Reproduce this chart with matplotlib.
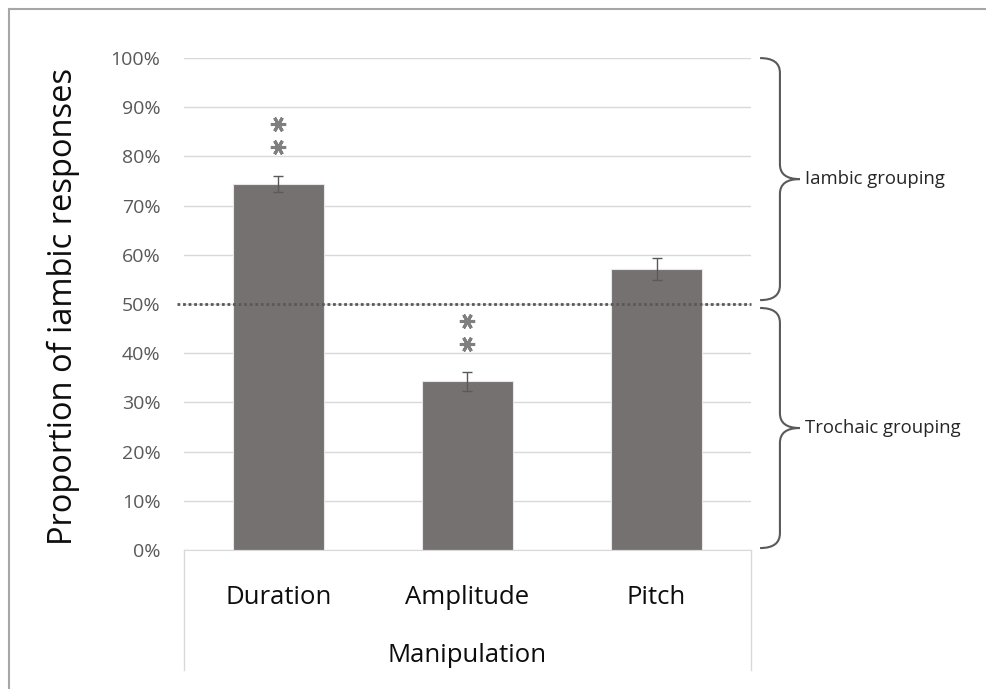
import matplotlib
matplotlib.use("Agg")
import matplotlib.pyplot as plt
from matplotlib.lines import Line2D
from matplotlib.path import Path
import matplotlib.patches as patches
import matplotlib.transforms as mtransforms

plt.rcParams["font.family"] = ["Open Sans", "DejaVu Sans"]

categories = ["Duration", "Amplitude", "Pitch"]
proportions = [74.4, 34.3, 57.1]
errors = [1.7, 1.9, 2.3]
significant = [True, True, False]
chance_level = 50
y_ticks = list(range(0, 101, 10))

BAR = "#767171"
GREY = "#595959"


def draw_brace(ax, y_top, y_bottom, label):
    trans = mtransforms.blended_transform_factory(ax.transAxes, ax.transData)
    x0, x1, x2 = 1.016, 1.051, 1.086
    r = 3.0
    ym = (y_top + y_bottom) / 2
    verts = [
        (x0, y_top), (x1, y_top), (x1, y_top - r),
        (x1, ym + r),
        (x1, ym), (x2, ym),
        (x1, ym), (x1, ym - r),
        (x1, y_bottom + r),
        (x1, y_bottom), (x0, y_bottom),
    ]
    codes = [Path.MOVETO, Path.CURVE3, Path.CURVE3,
             Path.LINETO,
             Path.CURVE3, Path.CURVE3,
             Path.CURVE3, Path.CURVE3,
             Path.LINETO,
             Path.CURVE3, Path.CURVE3]
    brace = patches.PathPatch(Path(verts, codes), fc="none", ec=GREY, lw=1.5,
                              transform=trans, clip_on=False)
    ax.add_patch(brace)
    ax.text(x2 + 0.01, ym, label, transform=trans, ha="left", va="center",
            fontsize=13.3, color="#262626")


fig = plt.figure(figsize=(9.87, 6.89), dpi=100)
ax = fig.add_axes([0.1864, 0.2017, 0.5745, 0.714])

x = range(len(categories))
ax.bar(x, proportions, width=0.48, color=BAR, edgecolor="#e8e6e6", lw=0.8, zorder=2)
ax.errorbar(x, proportions, yerr=errors, fmt="none", ecolor=GREY, elinewidth=1,
            capsize=3.5, capthick=1, zorder=3)

# significance stars above the bars
for xi, val, err, sig in zip(x, proportions, errors, significant):
    if sig:
        for off in (7.6, 12.2):
            ax.plot(xi, val + off, marker=(6, 2, 90), ms=11, mew=2.2,
                    color="#7f7f7f", zorder=4)

ax.axhline(chance_level, xmin=-0.012, xmax=1.0, color=GREY, lw=2,
           ls=(0, (1, 1)), clip_on=False, zorder=4)

ax.set_xlim(-0.5, 2.5)
ax.set_ylim(0, 100)
ax.set_yticks(y_ticks)
ax.set_yticklabels([f"{t}%" for t in y_ticks])
ax.yaxis.grid(True, color="#d9d9d9", lw=1)
ax.set_axisbelow(True)
for s in ["top", "right", "left"]:
    ax.spines[s].set_visible(False)
ax.spines["bottom"].set_color("#d9d9d9")
ax.tick_params(axis="y", length=0, pad=17, labelsize=14, labelcolor=GREY)
ax.set_xticks(list(x))
ax.set_xticklabels(categories)
ax.tick_params(axis="x", length=0, pad=25, labelsize=18.5, labelcolor="#0d0d0d")

ax.set_ylabel("Proportion of iambic responses", fontsize=23.5, color="#0d0d0d")
ax.yaxis.set_label_coords(-0.183, 0.496)
ax.set_xlabel("Manipulation", fontsize=18.5, color="#0d0d0d")
ax.xaxis.set_label_coords(0.5, -0.215)
ax.xaxis.label.set_va("center")

# category axis box lines
for xa in (0, 1):
    ax.add_line(Line2D([xa, xa], [0, -0.244], transform=ax.transAxes,
                       color="#d9d9d9", lw=1, clip_on=False))

draw_brace(ax, 100, 50.8, "Iambic grouping")
draw_brace(ax, 49.2, 0.4, "Trochaic grouping")

# outer frame edges
fig.add_artist(Line2D([0.009, 1.0], [0.987, 0.987], color="#a6a6a6", lw=1.5))
fig.add_artist(Line2D([0.009, 0.009], [0.0, 0.987], color="#a6a6a6", lw=1.5))

fig.savefig("out.png", dpi=100, facecolor="white")
